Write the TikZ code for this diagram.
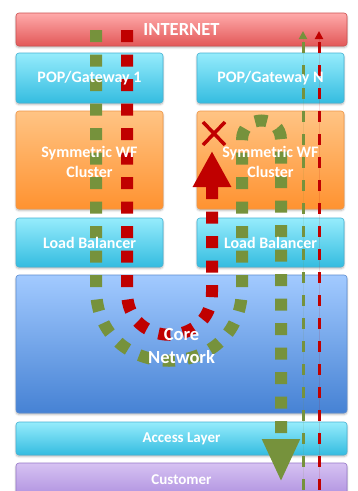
\documentclass[tikz,border=0pt]{standalone}
\usepackage{fontspec}
\setmainfont{Carlito}
\usetikzlibrary{positioning,arrows.meta,shadows.blur}
\definecolor{fGreen}{RGB}{118,146,60}
\definecolor{fRed}{RGB}{192,0,0}
\definecolor{inTop}{RGB}{255,170,170}
\definecolor{inBot}{RGB}{226,88,88}
\definecolor{inLine}{RGB}{205,80,80}
\definecolor{cyTop}{RGB}{150,236,252}
\definecolor{cyBot}{RGB}{52,188,224}
\definecolor{cyLine}{RGB}{70,178,212}
\definecolor{orTop}{RGB}{255,196,132}
\definecolor{orBot}{RGB}{255,146,48}
\definecolor{orLine}{RGB}{240,150,70}
\definecolor{blTop}{RGB}{162,202,255}
\definecolor{blBot}{RGB}{70,130,212}
\definecolor{blLine}{RGB}{92,140,208}
\definecolor{puTop}{RGB}{214,194,242}
\definecolor{puBot}{RGB}{176,146,224}
\definecolor{puLine}{RGB}{150,120,200}
\tikzset{
  tier/.style={rectangle, rounded corners=3pt, line width=0.6pt, outer sep=0pt,
               minimum width=331pt, minimum height=33pt, inner sep=0pt,
               blur shadow={shadow xshift=0pt, shadow yshift=-1.5pt,
                            shadow blur radius=2pt, shadow opacity=30}},
  half/.style={minimum width=147pt},
  inet/.style={tier, draw=inLine, top color=inTop, bottom color=inBot},
  gw/.style={tier, half, minimum height=50pt, draw=cyLine, top color=cyTop, bottom color=cyBot},
  wfc/.style={tier, half, minimum height=98pt, draw=orLine, top color=orTop, bottom color=orBot},
  lbal/.style={tier, half, minimum height=49pt, draw=cyLine, top color=cyTop, bottom color=cyBot},
  core/.style={tier, minimum height=138pt, draw=blLine, top color=blTop, bottom color=blBot},
  acc/.style={tier, draw=cyLine, top color=cyTop, bottom color=cyBot},
  cust/.style={tier, draw=puLine, top color=puTop, bottom color=puBot},
  lbl/.style={text=white, align=center, inner sep=0pt, font=\fontsize{16}{20}\selectfont\bfseries},
  lblbig/.style={lbl, font=\fontsize{18.5}{23}\selectfont\bfseries},
  lblsmall/.style={lbl, font=\fontsize{15}{18}\selectfont\bfseries},
  pkt/.style={line width=12pt, dash pattern=on 12pt off 12.5pt},
  pktthin/.style={line width=3pt, dash pattern=on 11pt off 12pt,
                  -{Triangle[length=8pt,width=8pt]}},
  xmark/.style={draw=fRed, line width=3.5pt},
}
\begin{document}
\begin{tikzpicture}[x=1pt,y=-1pt]
  \useasboundingbox (0,0) rectangle (357,491);
  % tiers
  \node[inet] (internet) at (181.5,29.5) {};
  \node[gw, below=7pt of internet.south west, anchor=north west] (gw1) {};
  \node[gw, right=34pt of gw1] (gwN) {};
  \node[wfc, below=8pt of gw1] (wf1) {};
  \node[wfc, right=34pt of wf1] (wfN) {};
  \node[lbal, below=9pt of wf1] (lb1) {};
  \node[lbal, right=34pt of lb1] (lbN) {};
  \node[core, below=8pt of lb1.south west, anchor=north west] (core) {};
  \node[acc, below=9pt of core] (access) {};
  \node[cust, below=8pt of access] (customer) {};

  % flow end points
  \coordinate (gIn) at (96,30);
  \coordinate (gOut) at (281,482);
  \coordinate (rIn) at (127,30);
  \coordinate (rOut) at (212,151);
  \coordinate (drop) at (214,133.5);

  % symmetric flow: out through gateway 1, back in through gateway N
  \draw[pkt, draw=fGreen, -{Triangle[length=43pt,width=35pt]}]
    (gIn) -- (96,288) .. controls (96,385) and (242,385) .. (242,288)
    -- (242,140) .. controls (242,114) and (281,114) .. (281,140) -- (gOut);
  % asymmetric flow: dropped at the second cluster
  \draw[pkt, draw=fRed, -{Triangle[length=36pt,width=36pt]}]
    (rIn) -- (127,292) .. controls (127,349) and (212,349) .. (212,292) -- (rOut);
  \draw[xmark] (drop) +(-11,-11.5) -- +(11,11.5) +(-11,11.5) -- +(11,-11.5);

  % return paths
  \coordinate (gRetIn) at (303,490);
  \coordinate (gRetOut) at (303,31);
  \coordinate (rRetIn) at (319,490);
  \coordinate (rRetOut) at (319,31);
  \draw[pktthin, draw=fGreen, fill=fGreen] (gRetIn) -- (gRetOut);
  \draw[pktthin, draw=fRed, fill=fRed] (rRetIn) -- (rRetOut);

  % labels on top
  \node[lblbig] (internetT) at (internet) {INTERNET};
  \node[lbl] (gw1T) at (gw1) {POP/Gateway 1};
  \node[lbl] (gwNT) at (gwN) {POP/Gateway N};
  \node[lbl] (wf1T) at ([yshift=-2pt]wf1) {Symmetric WF\\Cluster};
  \node[lbl] (wfNT) at ([yshift=-2pt]wfN) {Symmetric WF\\Cluster};
  \node[lbl] (lb1T) at (lb1) {Load Balancer};
  \node[lbl] (lbNT) at (lbN) {Load Balancer};
  \node[lblbig] (coreT) at ([yshift=-1.5pt]core) {Core\\Network};
  \node[lblsmall] (accessT) at (access) {Access Layer};
  \node[lblsmall] (customerT) at (customer) {Customer};
\end{tikzpicture}
\end{document}
